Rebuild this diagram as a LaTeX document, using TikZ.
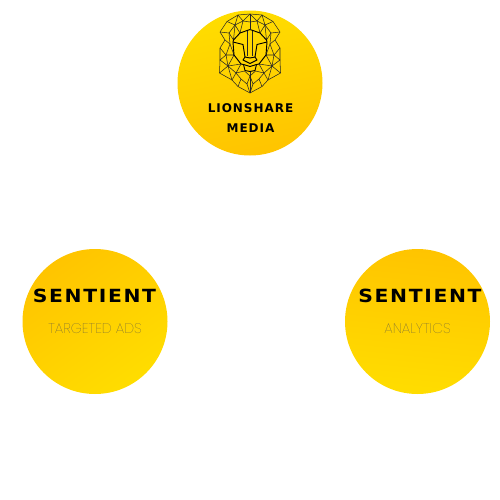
\documentclass[tikz,border=0pt]{standalone}
\usepackage{fontspec}
\setmainfont{Poppins}
\newfontfamily\headfont[LetterSpace=8,BoldFont={DejaVu Sans Bold}]{DejaVu Sans}
\newfontfamily\brandfont[FakeStretch=1.12,LetterSpace=9,BoldFont={DejaVu Sans Bold}]{DejaVu Sans}
\newfontfamily\thinfont{Poppins Thin}
\definecolor{goldlight}{RGB}{255,221,0}
\definecolor{golddark}{RGB}{255,196,0}
\tikzset{
  coin/.style={circle,minimum size=108.75pt,inner sep=0pt},
  brand/.style={inner sep=0.75pt,font=\brandfont\bfseries\fontsize{13.6}{13.6}\selectfont},
  sublabel/.style={inner sep=0.75pt,text=black!70,font=\thinfont\fontsize{10.5}{10.5}\selectfont},
  mesh/.style={line width=0.4pt,draw=black!85,line join=round},
  face/.style={line width=0.7pt,draw=black,line join=round},
}
\begin{document}
\begin{tikzpicture}[x=0.75pt,y=0.75pt,yscale=-1,xscale=1]
\useasboundingbox (0,0) rectangle (500,500);

%Circles
\node (lioncoin) [coin,top color=goldlight,bottom color=golddark,shading angle=12] at (250,83) {};
\node (adscoin) [coin,top color=golddark,bottom color=goldlight,shading angle=35] at (95,321.5) {};
\node (analyticscoin) [coin,top color=golddark,bottom color=goldlight,shading angle=-6] at (417.5,321.5) {};

%Lion, one half and its mirror image
\foreach \side in {1,-1} {
  \begin{scope}[shift={(250,0)},xscale=\side]
    %Outline
    \draw [mesh] (0,14) -- (12,15) -- (23,21.5) -- (30,32) -- (25,40) -- (30,48) -- (30,60) -- (30.5,73) -- (18,80) -- (12,86.5) -- (0,93) ;
    %Middle ring
    \draw [mesh] (0,22) -- (7,21) -- (15,25) -- (21,33) -- (20,44) -- (24,55) -- (22,66) -- (14,73) -- (9,79) -- (3,84) -- (0,76) ;
    %Spokes
    \draw [mesh] (12,15) -- (7,21) -- (0,14) ;
    \draw [mesh] (23,21.5) -- (15,25) -- (12,15) ;
    \draw [mesh] (30,32) -- (21,33) ;
    \draw [mesh] (25,40) -- (20,44) ;
    \draw [mesh] (30,48) -- (24,55) -- (30,60) -- (22,66) -- (30.5,73) ;
    \draw [mesh] (22,66) -- (18,80) -- (14,73) ;
    \draw [mesh] (12,86.5) -- (9,79) ;
    \draw [mesh] (3,84) -- (0,93) ;
    \draw [mesh] (7,21) -- (10,33) -- (15,25) -- (16.5,40) -- (21,33) ;
    \draw [mesh] (20,44) -- (16,55) -- (24,55) (16,55) -- (22,66) -- (9,64) ;
    \draw [mesh] (14,73) -- (9,64) (14,73) -- (5.5,71) ;
    \draw [mesh] (5.5,71) -- (0,76) ;
    \draw [mesh] (2.5,31) -- (2.5,56) ;
    %Face
    \draw [face] (0,29.5) -- (10,33) -- (16.5,40) -- (17,42) -- (16,55) -- (9,64) -- (6.5,64.5) -- (0,66.5) ;
    \draw [face] (17,42) -- (7,44.5) -- (5,57) -- (0,58) ;
    \draw [face] (5,57) -- (7,60) -- (0,63.5) ;
    \draw [face] (6.5,64.5) -- (5,70.5) -- (0,71.5) ;
  \end{scope}
}
\draw [mesh] (250,14) -- (250,29.5) (250,71.5) -- (250,93) ;

% Text Node
\node (lionname) [inner sep=0.75pt,align=center,font=\headfont\bfseries\fontsize{9}{14.6}\selectfont] at (250.5,118) {LIONSHARE\\MEDIA};
\node (adsbrand) [brand] at (94.5,296) {SENTIENT};
\node (adstext) [sublabel] at (95,329) {TARGETED ADS};
\node (analyticsbrand) [brand] at (420,296) {SENTIENT};
\node (analyticstext) [sublabel] at (417.5,329) {ANALYTICS};

\end{tikzpicture}
\end{document}
